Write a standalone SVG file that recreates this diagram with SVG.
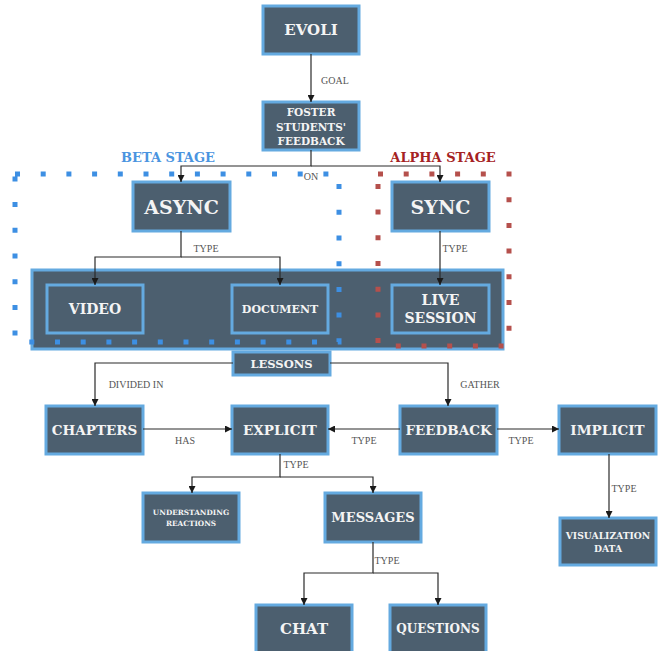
<svg xmlns="http://www.w3.org/2000/svg" width="658" height="651" viewBox="0 0 658 651">
<defs>
<marker id="arr" viewBox="0 0 10 10" refX="10" refY="5" markerWidth="7" markerHeight="7" markerUnits="userSpaceOnUse" orient="auto">
<path d="M0,0 L10,5 L0,10 z" fill="#1a1a1a"/>
</marker>
<style>
.node{fill:#4c5f6f;stroke:#64aae0;stroke-width:3}
.t{font-family:"DejaVu Serif","Liberation Serif",serif;font-weight:bold;fill:#f4f4f4;text-anchor:middle;dominant-baseline:central}
.c{fill:none;stroke:#2a2a2a;stroke-width:1.2}
.ca{fill:none;stroke:#2a2a2a;stroke-width:1.2;marker-end:url(#arr)}
.l{font-family:"Liberation Serif",serif;font-size:10px;fill:#555;text-anchor:middle;dominant-baseline:central}
.stage{font-family:"DejaVu Serif","Liberation Serif",serif;font-weight:bold;font-size:13px;text-anchor:middle;dominant-baseline:central}
</style>
</defs>
<rect width="658" height="651" fill="#ffffff"/>

<g id="lessons-container">
<rect class="node" x="32" y="270" width="471" height="79"/>
</g>

<g id="evoli"><rect class="node" x="263" y="6" width="96" height="48"/><text class="t" x="311" y="30" font-size="15">EVOLI</text></g>
<g id="foster"><rect class="node" x="263" y="102" width="96" height="48"/><text class="t" font-size="10.5"><tspan x="311" y="112">FOSTER</tspan><tspan x="311" y="126.5">STUDENTS'</tspan><tspan x="311" y="141">FEEDBACK</tspan></text></g>
<g id="async"><rect class="node" x="133" y="182" width="97" height="49"/><text class="t" x="181.5" y="207" font-size="19">ASYNC</text></g>
<g id="sync"><rect class="node" x="392" y="182" width="97" height="49"/><text class="t" x="440.5" y="207" font-size="19">SYNC</text></g>
<g id="video"><rect class="node" x="47" y="285" width="96" height="48"/><text class="t" x="95" y="309" font-size="14">VIDEO</text></g>
<g id="document"><rect class="node" x="232" y="285" width="96" height="48"/><text class="t" x="280" y="309" font-size="11">DOCUMENT</text></g>
<g id="live-session"><rect class="node" x="392" y="285" width="97" height="48"/><text class="t" font-size="14"><tspan x="440.5" y="300">LIVE</tspan><tspan x="440.5" y="318">SESSION</tspan></text></g>
<g id="lessons"><rect class="node" x="233" y="352" width="97" height="23"/><text class="t" x="281.5" y="363.5" font-size="11.5">LESSONS</text></g>
<g id="chapters"><rect class="node" x="46" y="406" width="97" height="48"/><text class="t" x="94.5" y="430" font-size="13.5">CHAPTERS</text></g>
<g id="explicit"><rect class="node" x="232" y="406" width="96" height="48"/><text class="t" x="280" y="430" font-size="13.5">EXPLICIT</text></g>
<g id="feedback"><rect class="node" x="400" y="406" width="97" height="48"/><text class="t" x="448.5" y="430" font-size="13.5">FEEDBACK</text></g>
<g id="implicit"><rect class="node" x="559" y="406" width="97" height="48"/><text class="t" x="607.5" y="430" font-size="13.5">IMPLICIT</text></g>
<g id="understanding-reactions"><rect class="node" x="143" y="493" width="96" height="49"/><text class="t" font-size="7.3"><tspan x="191" y="512">UNDERSTANDING</tspan><tspan x="191" y="523">REACTIONS</tspan></text></g>
<g id="messages"><rect class="node" x="325" y="493" width="96" height="49"/><text class="t" x="373" y="517" font-size="13">MESSAGES</text></g>
<g id="visualization-data"><rect class="node" x="560" y="518" width="96" height="47"/><text class="t" font-size="9.2"><tspan x="608" y="535">VISUALIZATION</tspan><tspan x="608" y="548">DATA</tspan></text></g>
<g id="chat"><rect class="node" x="256" y="605" width="96" height="48"/><text class="t" x="304" y="629" font-size="15">CHAT</text></g>
<g id="questions"><rect class="node" x="390" y="605" width="96" height="48"/><text class="t" x="438" y="629" font-size="12">QUESTIONS</text></g>

<g id="beta-stage">
<rect x="15" y="174" width="324" height="168" fill="none" stroke="#3d8fe3" stroke-width="5" stroke-dasharray="5 20.7"/>
<text class="stage" x="168" y="157" fill="#4a94e0">BETA STAGE</text>
</g>
<g id="alpha-stage">
<rect x="378" y="174" width="131" height="172" fill="none" stroke="#b5504c" stroke-width="5" stroke-dasharray="5 20.7"/>
<text class="stage" x="443" y="157" fill="#a52222">ALPHA STAGE</text>
</g>

<g id="connectors">
<path class="ca" d="M311,54 V102"/>
<path class="ca" d="M311,150 V166 H181 V182"/>
<path class="ca" d="M311,166 H440 V182"/>
<path class="ca" d="M181,231 V257 H95 V285"/>
<path class="ca" d="M181,257 H280 V285"/>
<path class="ca" d="M440,231 V285"/>
<path class="ca" d="M233,363 H95 V406"/>
<path class="ca" d="M330,363 H448 V406"/>
<path class="ca" d="M143,429 H232"/>
<path class="ca" d="M400,429 H328"/>
<path class="ca" d="M497,429 H559"/>
<path class="ca" d="M280,454 V477 H192 V493"/>
<path class="ca" d="M280,477 H373 V493"/>
<path class="ca" d="M373,542 V573 H304 V605"/>
<path class="ca" d="M373,573 H438 V605"/>
<path class="ca" d="M609,454 V518"/>
<text class="l" x="335" y="80">GOAL</text>
<text class="l" x="311" y="176">ON</text>
<text class="l" x="206" y="248">TYPE</text>
<text class="l" x="455" y="248">TYPE</text>
<text class="l" x="136" y="384">DIVIDED IN</text>
<text class="l" x="480" y="384">GATHER</text>
<text class="l" x="185" y="440">HAS</text>
<text class="l" x="364" y="440">TYPE</text>
<text class="l" x="521" y="440">TYPE</text>
<text class="l" x="296" y="464">TYPE</text>
<text class="l" x="387" y="560">TYPE</text>
<text class="l" x="624" y="488">TYPE</text>
</g>
</svg>
